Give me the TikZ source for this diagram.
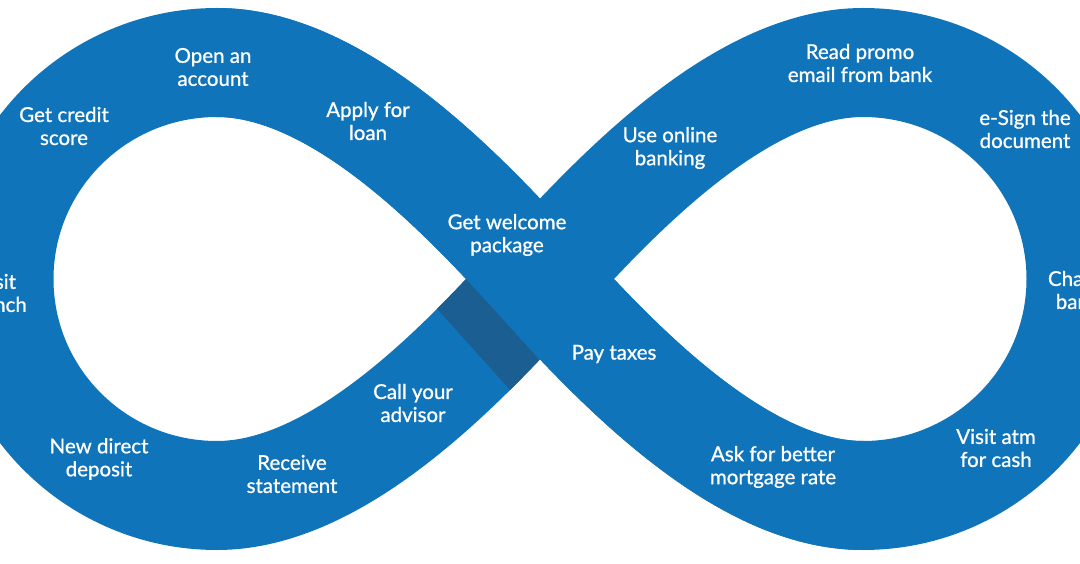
\documentclass[tikz,border=0pt]{standalone}
\usepackage{fontspec}
\setmainfont{Lato}[FakeBold=0.9]
\definecolor{loopblue}{RGB}{16,116,186}
\definecolor{loopdark}{RGB}{27,94,145}
\begin{document}
\begin{tikzpicture}[x=1pt,y=-1pt,
  band/.style={line width=109pt},
  lbl/.style={text=white, align=center, font=\fontsize{20.5}{23}\selectfont, inner sep=0pt}]
\useasboundingbox (0,0) rectangle (1080,564);
\clip (0,0) rectangle (1080,564);
\coordinate (C) at (540,279);
\coordinate (RB) at (863,495.5);
\coordinate (RR) at (1081,279);
\coordinate (RT) at (863,62.5);
\coordinate (LB) at (217,495.5);
\coordinate (LL) at (-1,279);
\coordinate (LT) at (217,62.5);
% whole loop
\draw[band, loopblue] (C) .. controls (620.3,368.2) and (743,495.5) .. (RB)
  .. controls (983.4,495.5) and (1081,398.6) .. (RR)
  .. controls (1081,159.4) and (983.4,62.5) .. (RT)
  .. controls (743,62.5) and (620.3,189.8) .. (C)
  .. controls (459.7,368.2) and (337,495.5) .. (LB)
  .. controls (96.6,495.5) and (-1,398.6) .. (LL)
  .. controls (-1,159.4) and (96.6,62.5) .. (LT)
  .. controls (337,62.5) and (459.7,189.8) .. (C);
% shadow where the lower band passes under
\begin{scope}
  \clip (399.8,204.7) -- (600.5,427.6) -- (572.3,459) -- (371.6,236.1) -- cycle;
  \draw[band, loopdark] (C) .. controls (459.7,368.2) and (337,495.5) .. (LB);
\end{scope}
% upper band over the crossing
\draw[band, loopblue] (LT) .. controls (337,62.5) and (459.7,189.8) .. (C)
  .. controls (620.3,368.2) and (743,495.5) .. (RB);
% labels
\node[lbl] (open) at (213,67) {Open an\\account};
\node[lbl] (credit) at (64,126) {Get credit\\score};
\node[lbl] (loan) at (368,121) {Apply for\\loan};
\node[lbl] (welcome) at (507,235) {Get welcome\\package};
\node[lbl] (online) at (670,148) {Use online\\banking};
\node[lbl] (promo) at (860,63) {Read promo\\email from bank};
\node[lbl] (esign) at (1025,129) {e-Sign the\\document};
\node[lbl] (change) at (1082,290) {Change\\banks};
\node[lbl] (branch) at (-4,293) {Visit\\branch};
\node[lbl] (direct) at (99,459) {New direct\\deposit};
\node[lbl] (statement) at (292,474) {Receive\\statement};
\node[lbl] (advisor) at (413,403) {Call your\\advisor};
\node[lbl] (taxes) at (614,354) {Pay taxes};
\node[lbl] (mortgage) at (773,467) {Ask for better\\mortgage rate};
\node[lbl] (atm) at (996,448) {Visit atm\\for cash};
\end{tikzpicture}
\end{document}
